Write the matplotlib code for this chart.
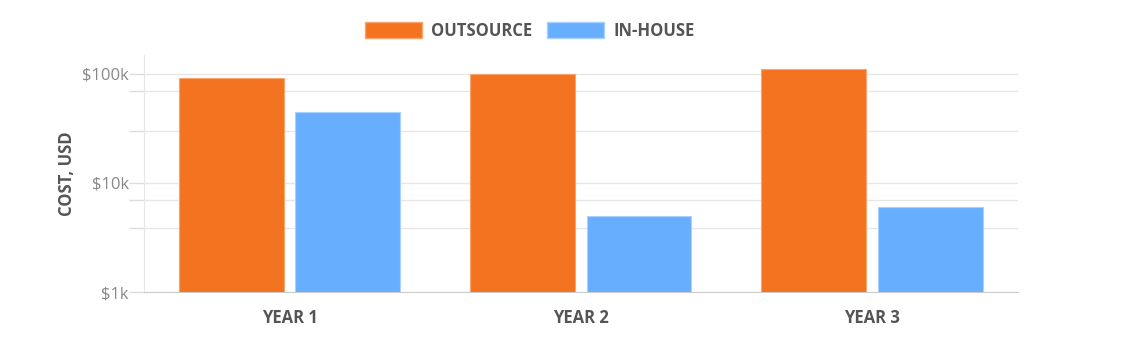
import numpy as np
import matplotlib.pyplot as plt
from matplotlib.ticker import FixedLocator, NullFormatter
from matplotlib.patches import Patch

years = ["YEAR 1", "YEAR 2", "YEAR 3"]
outsource = [92000, 100000, 111000]
in_house = [45000, 5000, 6000]

orange = "#F37321"
blue = "#68AEFF"
label_grey = "#555555"
tick_grey = "#888888"

plt.rcParams["font.family"] = ["Open Sans", "DejaVu Sans"]

fig = plt.figure(figsize=(11.33, 3.55), dpi=100)
ax = fig.add_axes([0.1271, 0.1766, 0.7711, 0.6684])

x = np.arange(len(years))
w = 0.36
ax.bar(x - 0.2, outsource, w, color=orange, edgecolor="#F8A56F", linewidth=0.8, zorder=3)
ax.bar(x + 0.2, in_house, w, color=blue, edgecolor="#A9D0FF", linewidth=0.8, zorder=3)

ax.set_yscale("log")
ax.set_ylim(1000, 148000)
ax.set_xlim(-0.5, 2.5)

# grid lines as they sit in the reference
ax.yaxis.set_major_locator(FixedLocator([1000, 10000, 100000]))
ax.yaxis.set_minor_locator(FixedLocator([3900, 7000, 30000, 70000]))
ax.set_yticklabels(["$1k", "$10k", "$100k"])
ax.yaxis.set_minor_formatter(NullFormatter())
ax.tick_params(axis="y", which="both", length=11, width=1, color="#dddddd",
               labelsize=12, labelcolor=tick_grey, pad=0)
ax.grid(axis="y", which="both", color="#e6e6e6", linewidth=1, zorder=0)

ax.set_xticks(x)
ax.set_xticklabels(years, fontsize=12, fontweight="bold", color=label_grey)
ax.tick_params(axis="x", length=0, pad=12)

ax.set_ylabel("COST, USD", fontsize=12, fontweight="bold", color=label_grey, labelpad=4)

for s in ["top", "right"]:
    ax.spines[s].set_visible(False)
ax.spines["left"].set_color("#e6e6e6")
ax.spines["bottom"].set_color("#cccccc")

handles = [Patch(facecolor=orange, edgecolor="#F8A56F"), Patch(facecolor=blue, edgecolor="#A9D0FF")]
leg = fig.legend(handles, ["OUTSOURCE", "IN-HOUSE"], loc="center", bbox_to_anchor=(0.4678, 0.913),
                 ncol=2, frameon=False, handlelength=3.4, handleheight=1.1, handletextpad=0.55,
                 columnspacing=0.9, prop={"size": 12, "weight": "bold"})
for t in leg.get_texts():
    t.set_color(label_grey)

fig.savefig("out.png", dpi=100)
